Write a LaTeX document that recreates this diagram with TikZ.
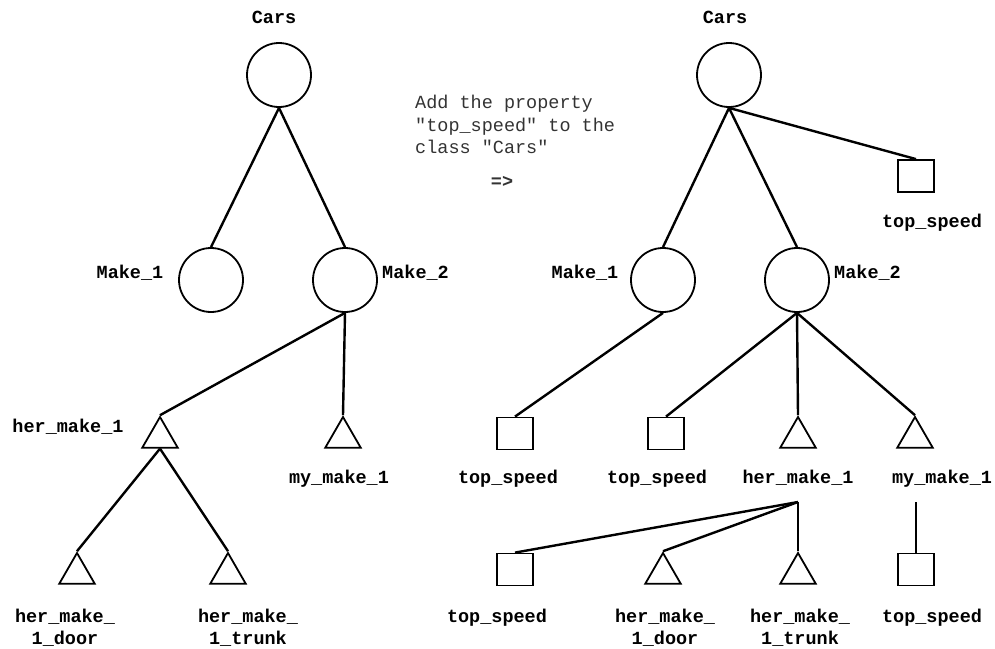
\documentclass[tikz,border=0pt]{standalone}
\usepackage{fontspec}
\setmonofont{Liberation Mono}
\usepackage{tikz}
\usetikzlibrary{shapes.geometric}
\tikzstyle{diagram} = [x = 1pt, y = -1pt]
\tikzstyle{classStyle} = [circle, draw, line width = 1.8pt, minimum size = 64pt, inner sep = 0]
\tikzstyle{propertyStyle} = [rectangle, draw, line width = 1.8pt, minimum width = 36pt, minimum height = 32pt, inner sep = 0]
\tikzstyle{objectStyle} = [regular polygon, regular polygon sides = 3, draw, line width = 1.8pt, minimum size = 41pt, inner sep = 0]
\tikzstyle{linkLine} = [line width = 2.4pt]
\tikzstyle{nameText} = [font = \fontsize{18.5}{22.5}\selectfont\ttfamily\bfseries, anchor = base, inner sep = 0, align = center]
\tikzstyle{noteText} = [font = \fontsize{18.5}{22.5}\selectfont\ttfamily, text = black!80, inner sep = 0, align = left]
\newcommand{\link}[2]{\draw [linkLine] (#1) -- (#2);}

\begin{document}
\begin{tikzpicture}[diagram]
  \useasboundingbox (0,0) rectangle (995,648);

  % before
  \node [classStyle] (lCars) at (279,75) {};
  \node [nameText] (lCarsText) at (274,23) {Cars};
  \node [classStyle] (lMakeOne) at (211,280) {};
  \node [nameText] (lMakeOneText) at (130,278.5) {Make\_1};
  \node [classStyle] (lMakeTwo) at (345,280) {};
  \node [nameText, anchor = base west] (lMakeTwoText) at (382,278.5) {Make\_2};
  \node [objectStyle] (lHer) at (160,437.5) {};
  \node [nameText] (lHerText) at (68,432.5) {her\_make\_1};
  \node [objectStyle] (lMy) at (343,437.5) {};
  \node [nameText] (lMyText) at (339,483.5) {my\_make\_1};
  \node [objectStyle] (lDoor) at (77,573.5) {};
  \node [nameText] (lDoorText) at (65,644.5) {her\_make\_\\1\_door};
  \node [objectStyle] (lTrunk) at (228,573.5) {};
  \node [nameText] (lTrunkText) at (248,644.5) {her\_make\_\\1\_trunk};

  \link{lCars.south}{lMakeOne.north}
  \link{lCars.south}{lMakeTwo.north}
  \link{lMakeTwo.south}{lHer.corner 1}
  \link{lMakeTwo.south}{lMy.corner 1}
  \link{lHer.side 2}{lDoor.corner 1}
  \link{lHer.side 2}{lTrunk.corner 1}

  % note
  \node [noteText, anchor = base west] (note) at (415,153.5) {Add the property\\"top\_speed" to the\\class "Cars"};
  \node [noteText, font = \fontsize{18.5}{22.5}\selectfont\ttfamily\bfseries] (arrow) at (502,182) {=>};

  % after
  \node [classStyle] (rCars) at (729,75) {};
  \node [nameText] (rCarsText) at (725,23) {Cars};
  \node [propertyStyle] (rTop) at (916,176) {};
  \node [nameText] (rTopText) at (932,227.5) {top\_speed};
  \node [classStyle] (rMakeOne) at (663,280) {};
  \node [nameText] (rMakeOneText) at (585,278.5) {Make\_1};
  \node [classStyle] (rMakeTwo) at (797,280) {};
  \node [nameText, anchor = base west] (rMakeTwoText) at (834,278.5) {Make\_2};
  \node [propertyStyle] (rSpeedA) at (515,433.5) {};
  \node [nameText] (rSpeedAText) at (508,483.5) {top\_speed};
  \node [propertyStyle] (rSpeedB) at (666,433.5) {};
  \node [nameText] (rSpeedBText) at (657,483.5) {top\_speed};
  \node [objectStyle] (rHer) at (798,437.5) {};
  \node [nameText] (rHerText) at (798,483.5) {her\_make\_1};
  \coordinate (rHerFork) at (798,502);
  \node [objectStyle] (rMy) at (915,437.5) {};
  \node [nameText] (rMyText) at (942,483.5) {my\_make\_1};
  \coordinate (rMyFork) at (916,502);
  \node [propertyStyle] (rSpeedC) at (515,569.5) {};
  \node [nameText] (rSpeedCText) at (497,622.5) {top\_speed};
  \node [objectStyle] (rDoor) at (663,573.5) {};
  \node [nameText] (rDoorText) at (665,644.5) {her\_make\_\\1\_door};
  \node [objectStyle] (rTrunk) at (798,573.5) {};
  \node [nameText] (rTrunkText) at (800,644.5) {her\_make\_\\1\_trunk};
  \node [propertyStyle] (rSpeedD) at (916,569.5) {};
  \node [nameText] (rSpeedDText) at (932,622.5) {top\_speed};

  \link{rCars.south}{rMakeOne.north}
  \link{rCars.south}{rMakeTwo.north}
  \link{rCars.south}{rTop.north}
  \link{rMakeOne.south}{rSpeedA.north}
  \link{rMakeTwo.south}{rSpeedB.north}
  \link{rMakeTwo.south}{rHer.corner 1}
  \link{rMakeTwo.south}{rMy.corner 1}
  \link{rHerFork}{rSpeedC.north}
  \link{rHerFork}{rDoor.corner 1}
  \link{rHerFork}{rTrunk.corner 1}
  \link{rMyFork}{rSpeedD.north}
\end{tikzpicture}
\end{document}
